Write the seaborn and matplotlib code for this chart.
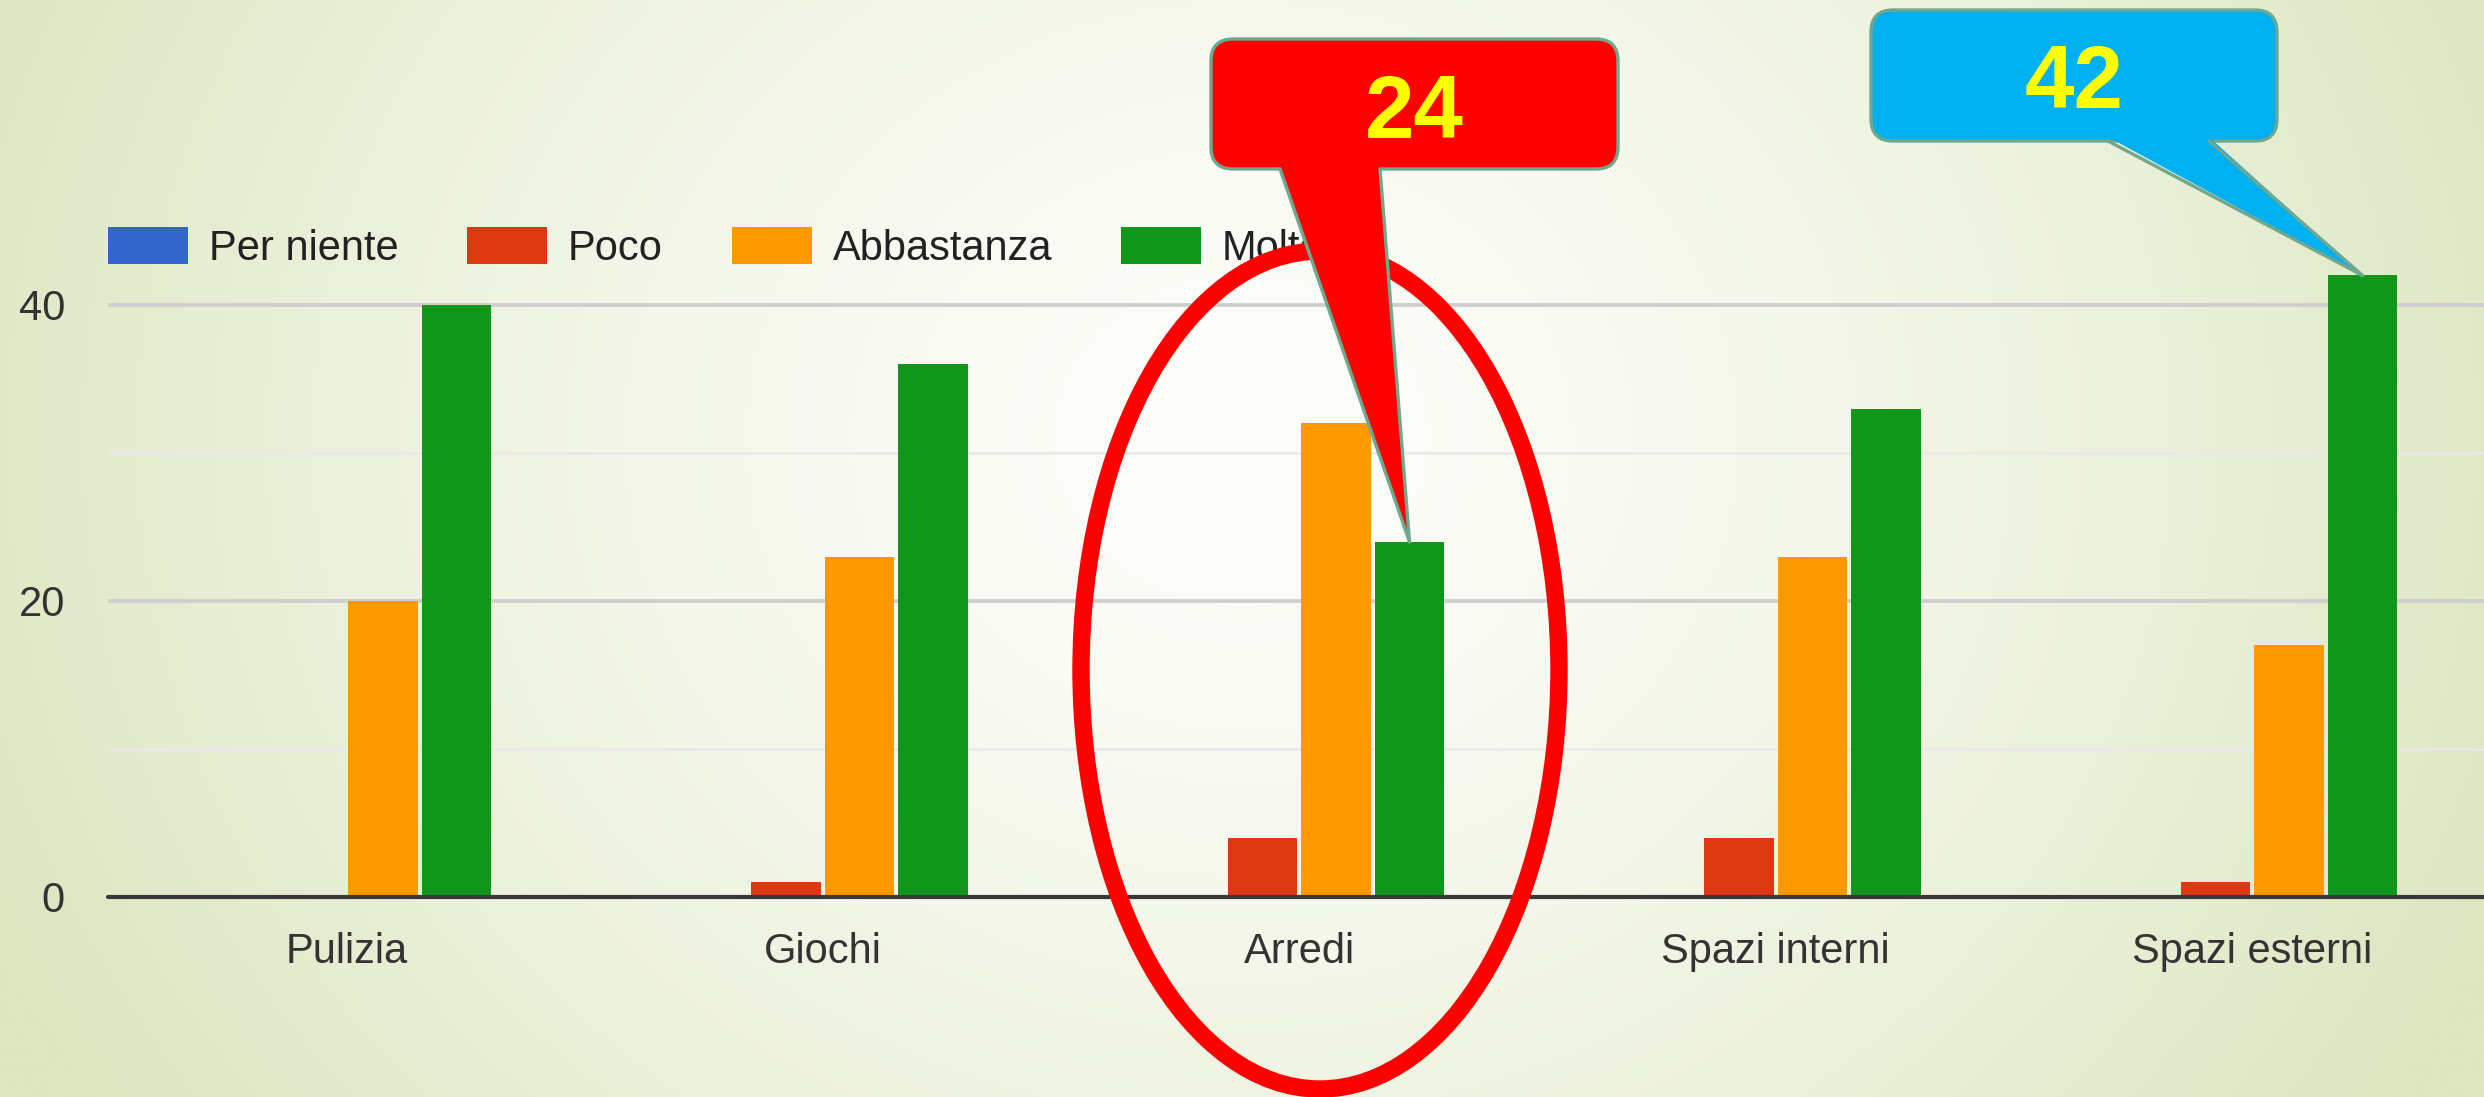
import numpy as np
import pandas as pd
import matplotlib
matplotlib.use("Agg")
import matplotlib.pyplot as plt
import matplotlib.transforms as mtransforms
import seaborn as sns
from matplotlib.patches import FancyBboxPatch, Polygon, Ellipse
from matplotlib.lines import Line2D

# ---------------- data ----------------
categories = ["Pulizia", "Giochi", "Arredi", "Spazi interni", "Spazi esterni"]
series_names = ["Per niente", "Poco", "Abbastanza", "Molto"]
per_niente = [0, 0, 0, 0, 0]
poco = [0, 1, 4, 4, 1]
abbastanza = [20, 23, 32, 23, 17]
molto = [40, 36, 24, 33, 42]
series_colors = ["#3366cc", "#dc3912", "#ff9900", "#109618"]
y_ticks = [0, 20, 40]
y_minor_ticks = [10, 30]
callout_red_label = "24"
callout_blue_label = "42"

W, H = 2484, 1097

sns.set_theme(style="white")
plt.rcParams['font.family'] = ['Liberation Sans', 'DejaVu Sans']

fig = plt.figure(figsize=(W / 100, H / 100), dpi=100)

# ---------------- background gradient ----------------
bg = fig.add_axes([0, 0, 1, 1], zorder=-10)
ny, nx = 300, 600
X, Y = np.meshgrid(np.linspace(0, 1, nx), np.linspace(0, 1, ny))
r = np.sqrt(((X - 0.5) / 0.55) ** 2 + ((Y - 0.4) / 1.1) ** 2)
t = np.clip(r, 0, 1) ** 1.5
c0 = np.array([0xfd, 0xfd, 0xfa]) / 255
c1 = np.array([0xdc, 0xe6, 0xc0]) / 255
img = c0[None, None, :] * (1 - t[..., None]) + c1[None, None, :] * t[..., None]
bg.imshow(img, aspect='auto', extent=[0, 1, 0, 1], origin='upper', interpolation='bilinear')
bg.set_axis_off()

# ---------------- main axes ----------------
ax_left, ax_base, group_px, unit_px = 108, 897, 476.5, 14.8
ax = fig.add_axes([ax_left / W, (H - ax_base) / H, 5 * group_px / W, 50 * unit_px / H])
ax.set_facecolor('none')

df = pd.DataFrame({
    "Categoria": categories * 4,
    "Serie": np.repeat(series_names, len(categories)),
    "Valore": per_niente + poco + abbastanza + molto,
})

bar_width = 0.617
sns.barplot(data=df, x="Categoria", y="Valore", hue="Serie", hue_order=series_names,
            order=categories, palette=series_colors, saturation=1, width=bar_width,
            gap=0.06, edgecolor='none', linewidth=0, ax=ax, legend=True)

ax.set_xlim(-0.5, 4.5)
ax.set_ylim(0, 50)
ax.set_yticks(y_ticks)
ax.set_yticks(y_minor_ticks, minor=True)
ax.set_axisbelow(True)
ax.grid(axis='y', which='major', color='#cfcfcf', lw=2.8)
ax.grid(axis='y', which='minor', color='#e9e9e9', lw=1.8)
ax.grid(axis='x', visible=False)
for s in ax.spines.values():
    s.set_visible(False)
ax.axhline(0, color='#383838', lw=3, zorder=3, clip_on=False)
ax.set_xlabel("")
ax.set_ylabel("")
ax.tick_params(axis='both', which='both', length=0, labelsize=30, colors='#333333')
ax.tick_params(axis='x', pad=25)
ax.tick_params(axis='y', pad=31)

# ---------------- legend ----------------
handles, labels = ax.get_legend_handles_labels()
if ax.legend_ is not None:
    ax.legend_.remove()
leg = fig.legend(handles, labels, loc='center left', bbox_to_anchor=(ax_left / W, 1 - 248 / H),
                 ncol=4, frameon=False, fontsize=30, handlelength=1.92, handleheight=0.98,
                 handletextpad=0.5, columnspacing=1.65, borderaxespad=0, borderpad=0)
for txt in leg.get_texts():
    txt.set_color('#222222')

# ---------------- annotations (pixel coords, top-down) ----------------
ident = mtransforms.IdentityTransform()

def P(x, y):
    return (x, H - y)

# red ellipse around "Arredi"
ell = Ellipse(P(1320, 670), 478, 838, fill=False, edgecolor='#ff0000', lw=12.5,
              transform=ident, zorder=20)
fig.add_artist(ell)

edge_col = '#6fa88f'

def bar_top(series_idx, cat_idx):
    bar = ax.containers[series_idx][cat_idx]
    xd = bar.get_x() + bar.get_width() / 2
    yd = bar.get_height()
    return tuple(ax.transData.transform((xd, yd)))

def callout(box, base, tip, fc, label, baseline_y, z):
    x0, y0, x1, y1 = box
    bx = FancyBboxPatch(P(x0, y1), x1 - x0, y1 - y0,
                        boxstyle="round,pad=0,rounding_size=22",
                        fc=fc, ec=edge_col, lw=2.4, transform=ident, zorder=z)
    fig.add_artist(bx)
    (ax0, ay), (ax1, _) = base
    tail = Polygon([P(ax0, ay - 4), P(ax1, ay - 4), tip], closed=True, fc=fc, ec='none',
                   transform=ident, zorder=z + 0.1)
    fig.add_artist(tail)
    for bxp in (ax0, ax1):
        a = P(bxp, ay)
        fig.add_artist(Line2D([a[0], tip[0]], [a[1], tip[1]], color=edge_col, lw=2.4,
                              transform=ident, zorder=z + 0.2, solid_capstyle='round'))
    cx = (x0 + x1) / 2
    fig.text(cx / W, 1 - baseline_y / H, label, ha='center', va='baseline', fontsize=64,
             fontweight='bold', color='#ffff00', zorder=z + 0.3)

tip_red = bar_top(3, categories.index("Arredi"))
callout((1211, 39, 1618, 169), ((1280, 169), (1380, 169)), tip_red, '#ff0000',
        callout_red_label, 138, 30)

tip_blue = bar_top(3, categories.index("Spazi esterni"))
callout((1871, 10, 2277, 141), ((2108, 141), (2209, 141)), tip_blue, '#00b0f0',
        callout_blue_label, 108, 30)

fig.savefig("out.png", dpi=100)
